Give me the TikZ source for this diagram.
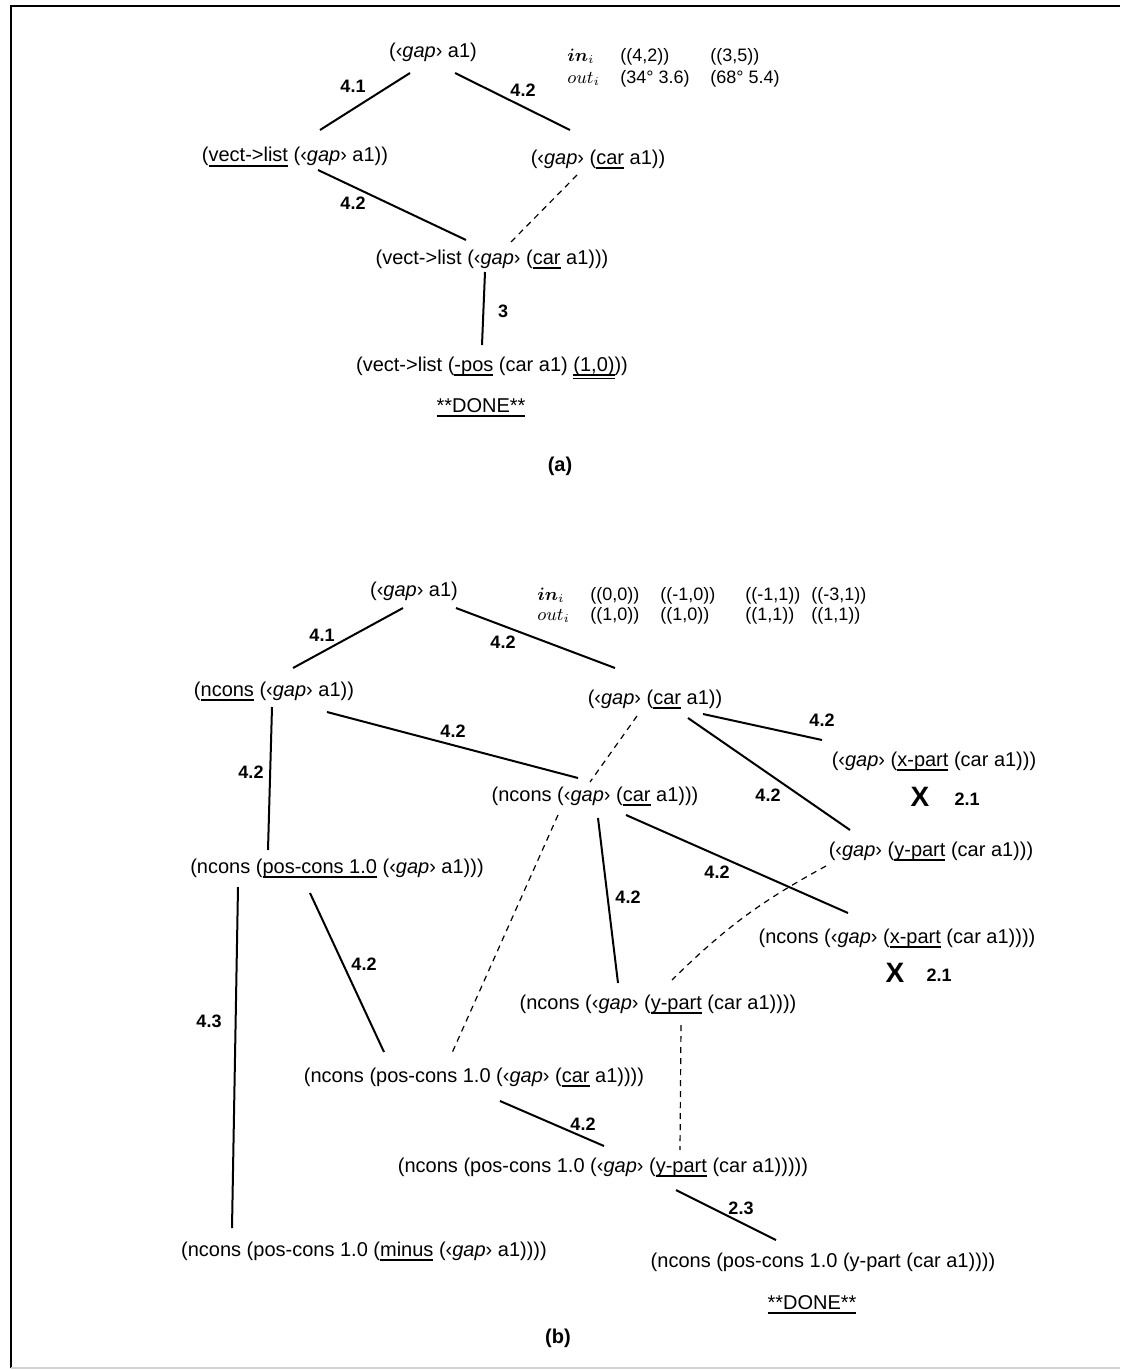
\documentclass[tikz,border=0pt]{standalone}
\usepackage{fontspec}
\setmainfont{Liberation Sans}
\usepackage{bm}
\usetikzlibrary{calc}
\newcommand\ul[1]{\sbox0{#1}\rlap{\usebox0}\rule[-2.6pt]{\wd0}{0.9pt}}
\newcommand\uul[1]{\sbox0{#1}\rlap{\usebox0}\rlap{\rule[-2.4pt]{\wd0}{0.7pt}}\rule[-4.2pt]{\wd0}{0.7pt}}
\newcommand\gp{‹\textit{gap}›}
\begin{document}
\begin{tikzpicture}[x=0.5pt,y=-0.5pt,
  txt/.style={anchor=base,inner sep=0pt,font=\fontsize{10}{12}\selectfont},
  tab/.style={anchor=base west,inner sep=0pt,font=\fontsize{9}{11}\selectfont},
  lbl/.style={inner sep=0pt,font=\fontsize{9}{10}\selectfont\bfseries},
  xmark/.style={inner sep=0pt,font=\fontsize{14}{14}\selectfont\bfseries},
  capt/.style={inner sep=0pt,font=\fontsize{10}{12}\selectfont\bfseries},
  conn/.style={line width=1pt},
  dsh/.style={line width=0.6pt,dash pattern=on 3pt off 2.5pt}]
\useasboundingbox (0,0) rectangle (1120,1370);
\draw[line width=1pt] (11,1368) -- (11,6) -- (1120,6);
\draw[gray!35,line width=0.8pt] (11,1368) -- (1120,1368);

% ---------------- (a) ----------------
\node[txt] (A1) at (433,58) {(\gp{} a1)};
\node[txt] (V1) at (295,162) {(\ul{vect->list} (\gp{} a1))};
\node[txt] (C1) at (598,164) {(\gp{} (\ul{car} a1))};
\node[txt] (VC) at (492,264) {(vect->list (\gp{} (\ul{car} a1)))};
\node[txt] (VP) at (492,371) {(vect->list (\ul{-pos} (car a1) \uul{(1,0)}))};
\node[txt] (D1) at (481,412) {\ul{**DONE**}};

\node[tab] (ta0) at (567,62) {$\bm{in}_i$};
\node[tab] (ta1) at (620,62) {((4,2))};
\node[tab] (ta2) at (710,62) {((3,5))};
\node[tab] (tb0) at (567,84) {$out_i$};
\node[tab] (tb1) at (620,84) {(34° 3.6)};
\node[tab] (tb2) at (710,84) {(68° 5.4)};

\draw[conn] ($(A1.base)+(-23,15)$) -- ($(V1.base)+(25,-32)$);
\draw[conn] ($(A1.base)+(22,15)$) -- ($(C1.base)+(-28,-34)$);
\draw[conn] ($(V1.base)+(23,8)$) -- ($(VC.base)+(-26,-24)$);
\draw[dsh] ($(C1.base)+(-21,11)$) -- ($(VC.base)+(18,-21)$);
\draw[conn] ($(VC.base)+(-7,8)$) -- ($(VP.base)+(-10,-26)$);

\node[lbl] (la1) at (353,86) {4.1};
\node[lbl] (la2) at (523,90) {4.2};
\node[lbl] (la3) at (353,203) {4.2};
\node[lbl] (la4) at (503,311) {3};

\node[capt] (capa) at (560,466) {(a)};

% ---------------- (b) ----------------
\node[txt] (B1) at (414,596) {(\gp{} a1)};
\node[txt] (N1) at (274,696) {(\ul{ncons} (\gp{} a1))};
\node[txt] (C2) at (655,704) {(\gp{} (\ul{car} a1))};
\node[txt] (NC) at (595,801) {(ncons (\gp{} (\ul{car} a1)))};
\node[txt] (XP) at (934,766) {(\gp{} (\ul{x-part} (car a1)))};
\node[txt] (YP) at (931,856) {(\gp{} (\ul{y-part} (car a1)))};
\node[txt] (NP) at (337,873) {(ncons (\ul{pos-cons 1.0} (\gp{} a1)))};
\node[txt] (NX) at (897,943) {(ncons (\gp{} (\ul{x-part} (car a1))))};
\node[txt] (NY) at (658,1009) {(ncons (\gp{} (\ul{y-part} (car a1))))};
\node[txt] (NPC) at (474,1082) {(ncons (pos-cons 1.0 (\gp{} (\ul{car} a1))))};
\node[txt] (NPY) at (603,1172) {(ncons (pos-cons 1.0 (\gp{} (\ul{y-part} (car a1)))))};
\node[txt] (NM) at (364,1256) {(ncons (pos-cons 1.0 (\ul{minus} (\gp{} a1))))};
\node[txt] (NF) at (823,1267) {(ncons (pos-cons 1.0 (y-part (car a1))))};
\node[txt] (D2) at (812,1309) {\ul{**DONE**}};

\node[xmark] (x1) at (920,797) {X};
\node[lbl] (x1l) at (967,799) {2.1};
\node[xmark] (x2) at (895,973) {X};
\node[lbl] (x2l) at (939,975) {2.1};

\node[tab] (tc0) at (537,600) {$\bm{in}_i$};
\node[tab] (tc1) at (590,600) {((0,0))};
\node[tab] (tc2) at (660,600) {((-1,0))};
\node[tab] (tc3) at (745,600) {((-1,1))};
\node[tab] (tc4) at (811,600) {((-3,1))};
\node[tab] (td0) at (537,620) {$out_i$};
\node[tab] (td1) at (590,620) {((1,0))};
\node[tab] (td2) at (660,620) {((1,0))};
\node[tab] (td3) at (745,620) {((1,1))};
\node[tab] (td4) at (811,620) {((1,1))};

\draw[conn] ($(B1.base)+(-11,12)$) -- ($(N1.base)+(19,-28)$);
\draw[conn] ($(B1.base)+(42,12)$) -- ($(C2.base)+(-40,-36)$);
\draw[conn] ($(N1.base)+(-2,11)$) -- ($(NP.base)+(-69,-23)$);
\draw[conn] ($(N1.base)+(53,16)$) -- ($(NC.base)+(-17,-23)$);
\draw[dsh] ($(C2.base)+(-18,12)$) -- ($(NC.base)+(-5,-19)$);
\draw[dsh] ($(NC.base)+(-37,14)$) -- ($(NPC.base)+(-22,-29)$);
\draw[conn] ($(C2.base)+(48,10)$) -- ($(XP.base)+(-112,-26)$);
\draw[conn] ($(C2.base)+(33,14)$) -- ($(YP.base)+(-81,-26)$);
\draw[conn] ($(NC.base)+(31,14)$) -- ($(NX.base)+(-49,-30)$);
\draw[conn] ($(NC.base)+(3,17)$) -- ($(NY.base)+(-40,-26)$);
\draw[dsh] ($(YP.base)+(-105,10)$) to[bend right=8] ($(NY.base)+(14,-29)$);
\draw[conn] ($(NP.base)+(-27,20)$) -- ($(NPC.base)+(-90,-30)$);
\draw[conn] ($(NP.base)+(-99,14)$) -- ($(NM.base)+(-132,-28)$);
\draw[dsh] ($(NY.base)+(23,16)$) -- ($(NPY.base)+(77,-22)$);
\draw[conn] ($(NPC.base)+(26,19)$) -- ($(NPY.base)+(1,-26)$);
\draw[conn] ($(NPY.base)+(73,18)$) -- ($(NF.base)+(-47,-27)$);

\node[lbl] (lb1) at (322,635) {4.1};
\node[lbl] (lb2) at (503,642) {4.2};
\node[lbl] (lb3) at (251,772) {4.2};
\node[lbl] (lb4) at (453,731) {4.2};
\node[lbl] (lb5) at (822,720) {4.2};
\node[lbl] (lb6) at (768,795) {4.2};
\node[lbl] (lb7) at (717,872) {4.2};
\node[lbl] (lb8) at (628,897) {4.2};
\node[lbl] (lb9) at (364,964) {4.2};
\node[lbl] (lb10) at (209,1021) {4.3};
\node[lbl] (lb11) at (583,1124) {4.2};
\node[lbl] (lb12) at (741,1208) {2.3};

\node[capt] (capb) at (558,1338) {(b)};
\end{tikzpicture}
\end{document}
